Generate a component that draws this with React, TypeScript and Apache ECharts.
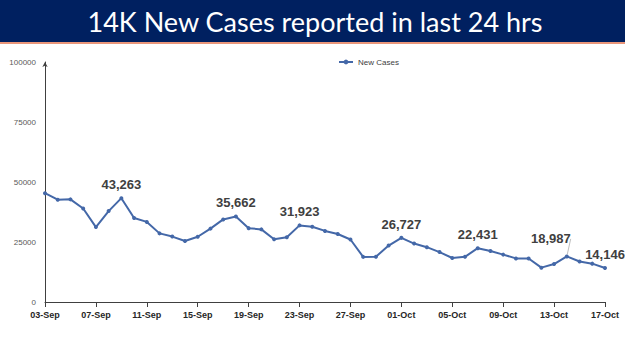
import React, { useEffect, useRef } from "react";
import * as echarts from "echarts";

const titleText = "14K New Cases reported in last 24 hrs";
const seriesName = "New Cases";
const dates = [
  "03-Sep", "04-Sep", "05-Sep", "06-Sep", "07-Sep", "08-Sep", "09-Sep", "10-Sep", "11-Sep", "12-Sep",
  "13-Sep", "14-Sep", "15-Sep", "16-Sep", "17-Sep", "18-Sep", "19-Sep", "20-Sep", "21-Sep", "22-Sep",
  "23-Sep", "24-Sep", "25-Sep", "26-Sep", "27-Sep", "28-Sep", "29-Sep", "30-Sep", "01-Oct", "02-Oct",
  "03-Oct", "04-Oct", "05-Oct", "06-Oct", "07-Oct", "08-Oct", "09-Oct", "10-Oct", "11-Oct", "12-Oct",
  "13-Oct", "14-Oct", "15-Oct", "16-Oct", "17-Oct",
];
const newCases = [
  45352, 42618, 42766, 38948, 31222, 37875, 43263, 34973, 33376, 28591,
  27254, 25404, 27176, 30570, 34403, 35662, 30773, 30256, 26115, 26964,
  31923, 31382, 29616, 28326, 26041, 18795, 18870, 23529, 26727, 24354,
  22842, 20799, 18346, 18833, 22431, 21257, 19740, 18166, 18132, 14313,
  15823, 18987, 16862, 15981, 14146,
];
const labelledDates = ["09-Sep", "18-Sep", "23-Sep", "01-Oct", "07-Oct", "14-Oct", "17-Oct"];
const leaderDate = "14-Oct";
const yTicks = [0, 25000, 50000, 75000, 100000];

export default function App() {
  const ref = useRef<HTMLDivElement>(null);
  useEffect(() => {
    if (!ref.current) return;
    const chart = echarts.init(ref.current, undefined, { renderer: "svg" });
    const data = newCases.map((v, i) => {
      const show = labelledDates.includes(dates[i]);
      if (!show) return { value: v };
      if (dates[i] === leaderDate) {
        return { value: v, label: { show: true }, labelLine: { show: true } };
      }
      return { value: v, label: { show: true } };
    });
    chart.setOption({
      animation: false,
      backgroundColor: "#ffffff",
      graphic: [
        { type: "rect", shape: { x: 0, y: 0, width: 625, height: 42 }, style: { fill: "#002060" } },
        { type: "rect", shape: { x: 0, y: 42, width: 625, height: 2 }, style: { fill: "#E9967A" } },
        {
          type: "text",
          x: 315,
          y: 21,
          style: {
            text: titleText,
            fill: "#ffffff",
            font: "27px Lato, 'Open Sans', sans-serif",
            align: "center",
            verticalAlign: "middle",
          },
        },
      ],
      legend: {
        top: 53,
        left: 333,
        itemWidth: 14,
        itemHeight: 6,
        itemGap: 4,
        textStyle: { fontSize: 8, color: "#404040", fontFamily: "Liberation Sans, Arial, sans-serif" },
        data: [seriesName],
      },
      grid: { left: 45, right: 20, top: 62, bottom: 49, containLabel: false },
      xAxis: {
        type: "category",
        data: dates,
        boundaryGap: false,
        axisLine: { lineStyle: { color: "#404040", width: 1 } },
        axisTick: { show: true, interval: 3, length: 5, lineStyle: { color: "#404040" } },
        axisLabel: {
          interval: 3,
          fontSize: 9,
          fontWeight: "bold",
          color: "#262626",
          margin: 8,
          fontFamily: "Liberation Sans, Arial, sans-serif",
        },
      },
      yAxis: {
        type: "value",
        min: 0,
        max: 100000,
        interval: 25000,
        splitLine: { show: false },
        axisLine: {
          show: true,
          lineStyle: { color: "#404040", width: 1 },
          symbol: ["none", "arrow"],
          symbolSize: [4, 5],
        },
        axisTick: { show: false },
        axisLabel: {
          fontSize: 8,
          color: "#595959",
          margin: 9,
          fontFamily: "Liberation Sans, Arial, sans-serif",
          formatter: (v: number) => (yTicks.includes(v) ? String(v) : ""),
        },
      },
      series: [
        {
          name: seriesName,
          type: "line",
          data,
          color: "#4468A8",
          lineStyle: { width: 2, color: "#4468A8" },
          symbol: "circle",
          symbolSize: 4,
          itemStyle: { color: "#4468A8" },
          label: {
            show: false,
            position: "top",
            distance: 5,
            fontSize: 13,
            fontWeight: "bold",
            color: "#404040",
            fontFamily: "Liberation Sans, Arial, sans-serif",
            formatter: (p: any) => Number(p.value).toLocaleString("en-US"),
          },
          labelLine: { show: false, lineStyle: { color: "#BFBFBF", width: 1 } },
          labelLayout: (p: any) => (dates[p.dataIndex] === leaderDate ? { dx: -16, dy: -4 } : {}),
        },
      ],
    });
    return () => chart.dispose();
  }, []);
  return (
    <div
      ref={ref}
      style={{ position: "fixed", left: 0, top: 0, width: 625, height: 351 }}
    />
  );
}
